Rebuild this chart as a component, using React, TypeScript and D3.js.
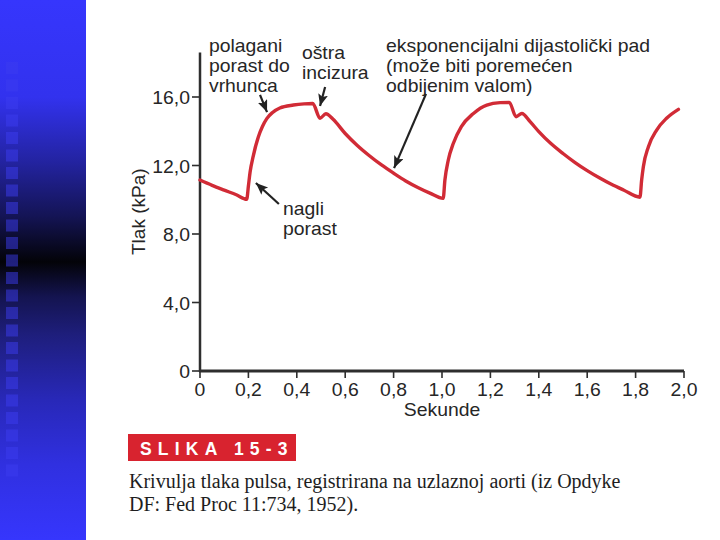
import React from "react";
import * as d3 from "d3";

// ---- data ----
const timeS = [
  0.0, 0.05, 0.1, 0.15, 0.193,
  0.2, 0.207, 0.22, 0.241, 0.258, 0.276, 0.3, 0.33, 0.386, 0.43, 0.466,
  0.496, 0.52, 0.55, 0.6, 0.65, 0.7, 0.75, 0.8, 0.85, 0.9, 0.95, 1.005,
  1.012, 1.026, 1.047, 1.08, 1.13, 1.185, 1.24, 1.278,
  1.306, 1.33, 1.364, 1.4, 1.45, 1.5, 1.55, 1.6, 1.65, 1.7, 1.75, 1.818,
  1.825, 1.832, 1.853, 1.887, 1.928, 1.977,
];
const pressureKPa = [
  11.15, 10.84, 10.56, 10.29, 10.03,
  10.8, 11.62, 12.55, 13.67, 14.28, 14.74, 15.1, 15.36, 15.53, 15.6, 15.62,
  14.76, 15.02, 14.7, 13.87, 13.17, 12.57, 12.03, 11.55, 11.1, 10.72, 10.39, 10.08,
  11.15, 12.32, 13.3, 14.27, 15.04, 15.53, 15.67, 15.68,
  14.85, 15.04, 14.56, 13.98, 13.28, 12.7, 12.17, 11.7, 11.28, 10.9, 10.57, 10.15,
  11.15, 11.93, 13.1, 14.07, 14.76, 15.28,
];

const xTickValues = [0, 0.2, 0.4, 0.6, 0.8, 1.0, 1.2, 1.4, 1.6, 1.8, 2.0];
const xTickLabels = ["0", "0,2", "0,4", "0,6", "0,8", "1,0", "1,2", "1,4", "1,6", "1,8", "2,0"];
const yTickValues = [0, 4, 8, 12, 16];
const yTickLabels = ["0", "4,0", "8,0", "12,0", "16,0"];

const xAxisTitle = "Sekunde";
const yAxisTitle = "Tlak (kPa)";

// annotation texts with anchor in data units (seconds, kPa)
const annotationLines = [
  ["polagani", "porast do", "vrhunca"],
  ["oštra", "incizura"],
  ["eksponencijalni dijastolički pad", "(može biti poremećen", "odbijenim valom)"],
  ["nagli", "porast"],
];
const annotationAnchorX = [0.037, 0.421, 0.769, 0.343];
const annotationAnchorY = [18.63, 18.22, 18.63, 9.11];
// arrows: from (x1,y1) to tip (x2,y2), data units
const arrowFromX = [0.248, 0.517, 0.934, 0.326];
const arrowFromY = [16.12, 16.58, 16.18, 9.75];
const arrowToX = [0.277, 0.496, 0.802, 0.231];
const arrowToY = [15.12, 15.47, 11.85, 10.98];

const figureLabel = "SLIKA 15-3";
const captionLines = [
  "Krivulja tlaka pulsa, registrirana na uzlaznoj aorti (iz Opdyke",
  "DF: Fed Proc 11:734, 1952).",
];

const SANS = "'Liberation Sans', Arial, Helvetica, sans-serif";
const SERIF = "'Liberation Serif', 'Times New Roman', serif";
const STRETCH = 1.02;
const FS = 19;

function SText(props: {
  x: number;
  y: number;
  anchor?: string;
  size?: number;
  fill?: string;
  children: React.ReactNode;
}) {
  const { x, y, anchor = "start", size = FS, fill = "#262626", children } = props;
  return (
    <text
      transform={`translate(${x},${y}) scale(${STRETCH},1)`}
      textAnchor={anchor}
      fontFamily={SANS}
      fontSize={size}
      fill={fill}
    >
      {children}
    </text>
  );
}

export default function App() {
  const x = d3.scaleLinear().domain([0, 2]).range([200, 684]);
  const y = d3.scaleLinear().domain([0, 16]).range([371, 97]);

  const pts: [number, number][] = timeS.map((t, i) => [t, pressureKPa[i]]);
  const line = d3
    .line<[number, number]>()
    .x((d) => x(d[0]))
    .y((d) => y(d[1]))
    .curve(d3.curveMonotoneX);

  const squares = d3.range(24);

  return (
    <svg
      width={720}
      height={540}
      style={{ position: "absolute", left: 0, top: 0, background: "#ffffff" }}
    >
      <defs>
        <linearGradient id="sidebar" x1="0" y1="0" x2="0" y2="1">
          <stop offset="0" stopColor="#3636fd" />
          <stop offset="0.18" stopColor="#3232ee" />
          <stop offset="0.3" stopColor="#2323a0" />
          <stop offset="0.4" stopColor="#141455" />
          <stop offset="0.485" stopColor="#030308" />
          <stop offset="0.55" stopColor="#141450" />
          <stop offset="0.62" stopColor="#1e1e7c" />
          <stop offset="0.74" stopColor="#2828b8" />
          <stop offset="0.86" stopColor="#3030e0" />
          <stop offset="1" stopColor="#3636fd" />
        </linearGradient>
        <marker
          id="arrowHead"
          markerUnits="userSpaceOnUse"
          markerWidth={14}
          markerHeight={12}
          refX={12}
          refY={5}
          orient="auto"
        >
          <path d="M0,0 L12,5 L0,10 L2.5,5 Z" fill="#222" />
        </marker>
      </defs>

      {/* left decorative bar */}
      <rect x={0} y={0} width={86} height={540} fill="url(#sidebar)" />
      {squares.map((i) => (
        <rect
          key={i}
          x={6}
          y={62 + i * 17.5}
          width={12}
          height={12}
          fill="#3c3cf0"
          opacity={0.5}
        />
      ))}

      {/* axes */}
      <line x1={x(0)} x2={x(0)} y1={y(18.6)} y2={y(0) + 1} stroke="#2e2e2e" strokeWidth={2.5} />
      <line x1={x(0) - 1} x2={x(2)} y1={y(0)} y2={y(0)} stroke="#2e2e2e" strokeWidth={3} />
      {yTickValues.map((v, i) => (
        <g key={"y" + v}>
          <line x1={x(0) - 8} x2={x(0)} y1={y(v)} y2={y(v)} stroke="#2e2e2e" strokeWidth={1.6} />
          <SText x={x(0) - 10} y={y(v) + 7} anchor="end">
            {yTickLabels[i]}
          </SText>
        </g>
      ))}
      {xTickValues.map((v, i) => (
        <g key={"x" + v}>
          <line x1={x(v)} x2={x(v)} y1={y(0)} y2={y(0) + 7} stroke="#2e2e2e" strokeWidth={1.6} />
          <SText x={x(v)} y={396} anchor="middle">
            {xTickLabels[i]}
          </SText>
        </g>
      ))}
      <SText x={x(1)} y={416} anchor="middle">
        {xAxisTitle}
      </SText>
      <text
        transform={`translate(145,${y(9.3)}) rotate(-90)`}
        textAnchor="middle"
        fontFamily={SANS}
        fontSize={FS}
        fill="#262626"
      >
        {yAxisTitle}
      </text>

      {/* pressure curve */}
      <path
        d={line(pts) || ""}
        fill="none"
        stroke="#d12b36"
        strokeWidth={3.4}
        strokeLinejoin="round"
        strokeLinecap="round"
      />

      {/* annotations */}
      {annotationLines.map((lines, i) => (
        <g key={"a" + i}>
          {lines.map((t, j) => (
            <SText key={j} x={x(annotationAnchorX[i])} y={y(annotationAnchorY[i]) + j * 20}>
              {t}
            </SText>
          ))}
          <line
            x1={x(arrowFromX[i])}
            y1={y(arrowFromY[i])}
            x2={x(arrowToX[i])}
            y2={y(arrowToY[i])}
            stroke="#222"
            strokeWidth={2.2}
            markerEnd="url(#arrowHead)"
          />
        </g>
      ))}

      {/* figure label and caption */}
      <rect x={128} y={434} width={168} height={27} fill="#d8232f" />
      <text
        x={140}
        y={455}
        fontFamily={SANS}
        fontWeight="bold"
        fontSize={17.5}
        letterSpacing={6.2}
        fill="#ffffff"
      >
        {figureLabel}
      </text>
      {captionLines.map((t, i) => (
        <text key={"c" + i} x={129} y={488 + i * 23} fontFamily={SERIF} fontSize={20} fill="#1e1e1e">
          {t}
        </text>
      ))}
    </svg>
  );
}
